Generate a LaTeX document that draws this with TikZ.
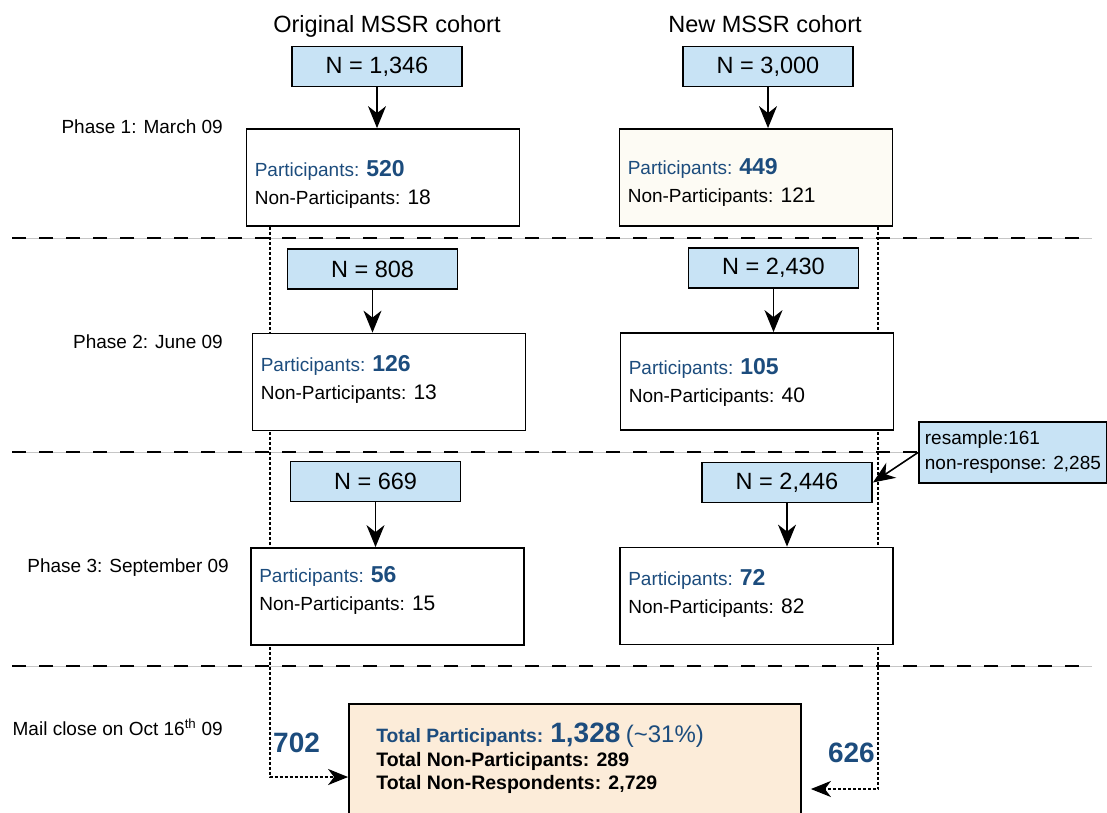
\documentclass[tikz,border=0pt]{standalone}
\usepackage{fontspec}
\setmainfont{Liberation Sans}
\usetikzlibrary{arrows.meta,calc,backgrounds}

\definecolor{nblue}{RGB}{200,227,245}
\definecolor{pblue}{RGB}{28,76,125}
\definecolor{tcream}{RGB}{252,236,217}
\definecolor{pcream}{RGB}{253,251,244}

\tikzset{
  nbox/.style={draw, line width=1.8pt, fill=nblue, minimum width=170pt, minimum height=40pt, inner sep=0pt, font=\fontsize{23.5}{28}\selectfont},
  pbox/.style={draw, line width=1.8pt, minimum width=273pt, minimum height=97pt, inner sep=0pt},
  ptext/.style={anchor=base west, inner sep=0pt, font=\fontsize{19}{23}\selectfont},
  phase/.style={anchor=base east, inner sep=0pt, font=\fontsize{19}{23}\selectfont},
  title/.style={anchor=base, inner sep=0pt, font=\fontsize{23.5}{28}\selectfont},
  tally/.style={inner sep=0pt, text=pblue, font=\fontsize{28}{32}\selectfont\bfseries},
  flow/.style={line width=1.6pt, -{Stealth[length=22pt,width=18pt,inset=7pt]}},
  dots/.style={line width=2pt, dash pattern=on 3pt off 2pt, -{Stealth[length=20pt,width=16pt,inset=6pt]}},
  sep/.style={line width=2pt, dash pattern=on 14pt off 13pt},
}
\newcommand{\pnum}[1]{{\fontsize{23}{27}\selectfont\bfseries #1}}
\newcommand{\qnum}[1]{{\fontsize{21}{25}\selectfont #1}}

\begin{document}
\begin{tikzpicture}[x=1pt,y=-1pt]
  \useasboundingbox (0,0) rectangle (1107,812);
  \clip (0,0) rectangle (1107,812);

  % column titles and phases
  \node[title] (told) at (387,32) {Original MSSR cohort};
  \node[title] (tnew) at (765,32) {New MSSR cohort};
  \node[phase] (ph1) at (223,133) {Phase 1: March 09};
  \node[phase] (ph2) at (223,348) {Phase 2: June 09};
  \node[phase] (ph3) at (229,572) {Phase 3: September 09};
  \node[phase] (ph4) at (223,735) {Mail close on Oct 16\textsuperscript{th} 09};

  % samples and returns per phase
  \foreach \id/\nx/\ny/\nv/\bx/\by/\fc/\dy/\np/\nq in {
      a/377/66.5/{1,346}/383/177.5/white/48/520/18,
      b/372.5/269/808/389/382/white/39/126/13,
      c/375.5/481.5/669/387.5/596.5/white/35/56/15,
      d/768/66.5/{3,000}/756/177.5/pcream/46/449/121,
      e/773.5/268/{2,430}/757/381.5/white/42/105/40,
      f/787/482.5/{2,446}/756.5/596/white/39/72/82}{
    \node[nbox] (n\id) at (\nx,\ny) {N = \nv};
    \node[pbox, fill=\fc] (p\id) at (\bx,\by) {};
    \node[ptext] (u\id) at ($(p\id.north west)+(9,\dy)$) {\color{pblue}Participants: \pnum{\np}};
    \node[ptext] (v\id) at ($(p\id.north west)+(9,\dy+28)$) {Non-Participants: \qnum{\nq}};
    \draw[flow] (n\id.south) -- (n\id.south |- p\id.north);
  }

  % resample note
  \node[draw, line width=1.8pt, fill=nblue, anchor=west, minimum width=187pt, minimum height=61pt,
        inner xsep=6pt, align=left, font=\fontsize{19}{25}\selectfont] (rs) at (918,452.5)
        {resample:161\\non-response: 2,285};
  \draw[flow] (rs.west) -- (nf.east);

  % totals
  \node[pbox, fill=tcream, minimum width=452pt, minimum height=146pt] (tot) at (575,777) {};
  \node[ptext, text=pblue, font=\fontsize{19.3}{23}\selectfont\bfseries] (tp) at ($(tot.north west)+(28,39)$)
        {Total Participants: {\fontsize{28}{32}\selectfont 1,328} {\mdseries\fontsize{24}{28}\selectfont(\textasciitilde31\%)}};
  \node[ptext, font=\fontsize{19.5}{23}\selectfont\bfseries] (tn) at ($(tot.north west)+(28,63)$) {Total Non-Participants: 289};
  \node[ptext, font=\fontsize{19.5}{23}\selectfont\bfseries] (tr) at ($(tot.north west)+(28,86)$) {Total Non-Respondents: 2,729};
  \node[tally, anchor=base west] (sold) at (273,752) {702};
  \node[tally, anchor=base east] (snew) at (875,762) {626};

  \begin{pgfonlayer}{background}
    \foreach \y in {238,452,666}{
      \draw[gray!45, line width=0.6pt] (12,\y) -- (1092,\y);
      \draw[sep] (12,\y) -- (1092,\y);
    }
    \draw[dots] ($(pa.south west)+(24,0)$) |- (tot.west);
    \draw[dots] ($(pd.south east)+(-15,0)$) |- ($(tot.east)+(9,12)$);
  \end{pgfonlayer}
\end{tikzpicture}
\end{document}
